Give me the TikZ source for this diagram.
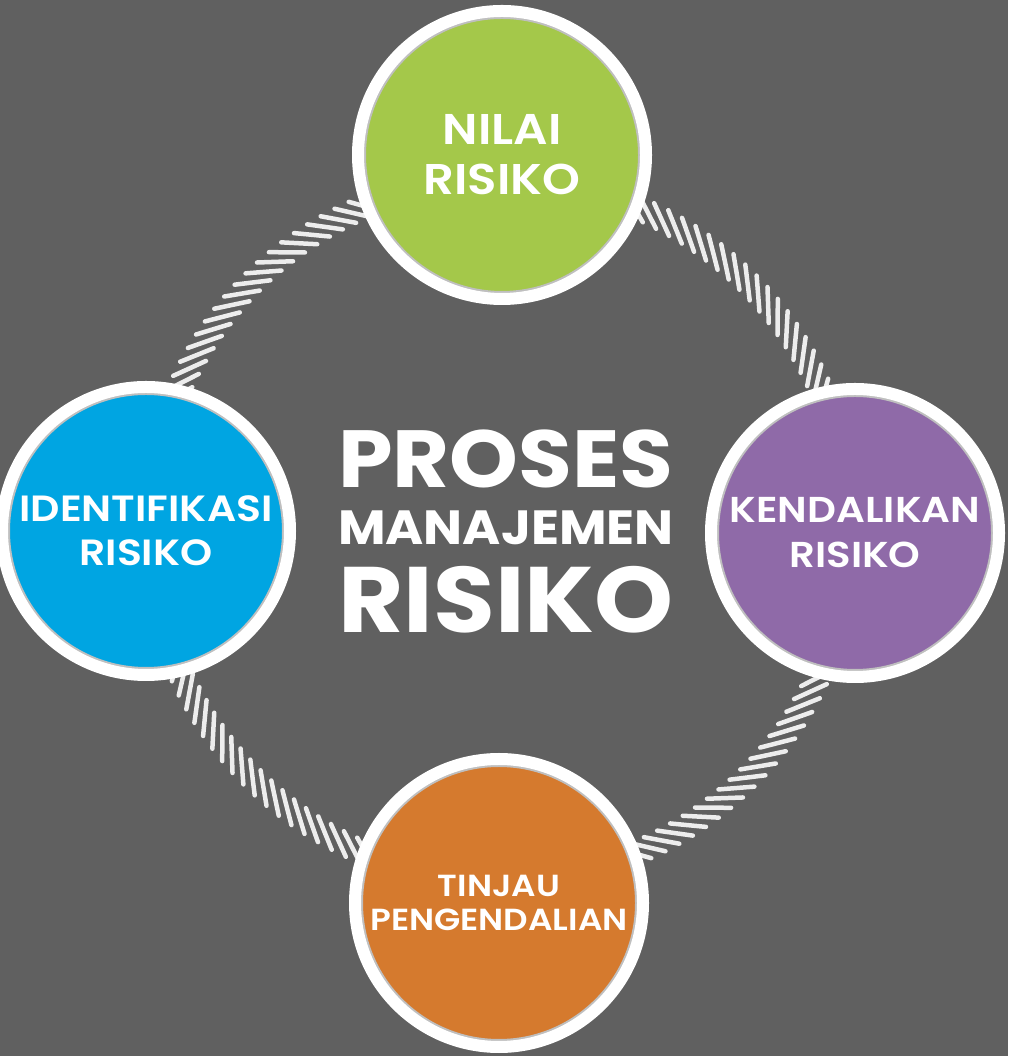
\documentclass[tikz,border=0pt]{standalone}
\usepackage{fontspec}
\setmainfont{Poppins}
\newfontfamily\titlefont{Poppins}[UprightFont={* Bold},FakeStretch=1.08]
\newfontfamily\stagefont{Poppins}[UprightFont={* SemiBold},FakeStretch=1.12]
\usetikzlibrary{shadows,calc}
\definecolor{bggray}{RGB}{96,96,96}
\definecolor{nilaigreen}{RGB}{164,200,74}
\definecolor{identblue}{RGB}{0,165,226}
\definecolor{kendalipurple}{RGB}{143,106,168}
\definecolor{tinjauorange}{RGB}{213,122,46}

\begin{document}
\begin{tikzpicture}[x=1pt,y=1pt]
\tikzstyle{stage}=[circle,minimum size=288pt,inner sep=0pt,draw=white,line width=12pt,text=white,align=center,
  drop shadow={shadow xshift=3pt,shadow yshift=-4pt,opacity=0.3,fill=black},
  path picture={\draw[black!25,line width=3pt] (path picture bounding box.center) circle (137.5);}];
\tikzstyle{hatch}=[white!93!black,line width=4.5pt,line cap=round];
\tikzstyle{title}=[text=white,anchor=base,inner sep=0pt];
\fill[bggray] (0,0) rectangle (1008,1056);
\useasboundingbox (0,0) rectangle (1008,1056);
\coordinate (hub) at (500,526);
% twisted ring behind the stages
\foreach \a in {0,2.5,...,357.5}
  \draw[hatch] ($(hub)+(\a:350)+(\a-128:-18)$) -- ++(\a-128:36);
% stages
\node[stage,fill=nilaigreen,font=\stagefont\fontsize{43}{50}\selectfont] (nilai) at (502,901) {NILAI\\RISIKO};
\node[stage,fill=identblue,font=\stagefont\fontsize{36.5}{44}\selectfont] (identifikasi) at (146,525) {IDENTIFIKASI\\RISIKO};
\node[stage,fill=kendalipurple,font=\stagefont\fontsize{36}{45}\selectfont] (kendalikan) at (855,523) {KENDALIKAN\\RISIKO};
\node[stage,fill=tinjauorange,font=\stagefont\fontsize{30.5}{34}\selectfont] (tinjau) at (499,153) {TINJAU\\PENGENDALIAN};
% title
\node[title,font=\titlefont\fontsize{81}{81}\selectfont] (proses) at (506,568) {PROSES};
\node[title,font=\titlefont\fontsize{48}{48}\selectfont] (manajemen) at (506,511) {MANAJEMEN};
\node[title,font=\titlefont\fontsize{93}{93}\selectfont] (risiko) at (506,423) {RISIKO};
\end{tikzpicture}
\end{document}
